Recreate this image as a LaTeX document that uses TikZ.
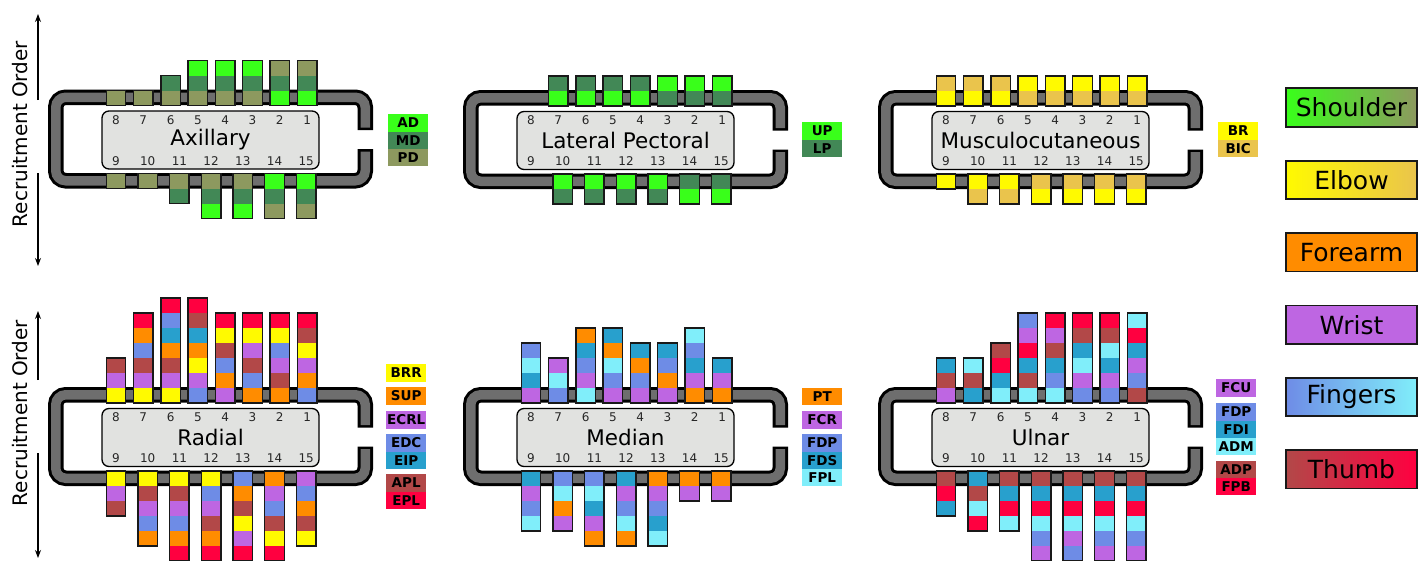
\documentclass[tikz,border=0pt]{standalone}
\usepackage{fontspec}
\setmainfont{DejaVu Sans}
\usetikzlibrary{arrows.meta}

\definecolor{gAD}{RGB}{57,255,26}
\definecolor{gMD}{RGB}{66,136,86}
\definecolor{gPD}{RGB}{141,153,95}
\definecolor{yBR}{RGB}{255,250,0}
\definecolor{yBIC}{RGB}{234,196,76}
\definecolor{oOR}{RGB}{255,140,0}
\definecolor{pPU}{RGB}{190,102,226}
\definecolor{bBL}{RGB}{110,140,230}
\definecolor{tTE}{RGB}{40,160,205}
\definecolor{cCY}{RGB}{128,238,250}
\definecolor{rBN}{RGB}{178,72,72}
\definecolor{rRE}{RGB}{255,0,64}
\definecolor{changray}{RGB}{110,110,110}
\definecolor{boxgray}{RGB}{225,226,224}

\colorlet{cAD}{gAD}\colorlet{cMD}{gMD}\colorlet{cPD}{gPD}
\colorlet{cUP}{gAD}\colorlet{cLP}{gMD}
\colorlet{cBR}{yBR}\colorlet{cBIC}{yBIC}
\colorlet{cBRR}{yBR}\colorlet{cSUP}{oOR}\colorlet{cECRL}{pPU}\colorlet{cEDC}{bBL}
\colorlet{cEIP}{tTE}\colorlet{cAPL}{rBN}\colorlet{cEPL}{rRE}
\colorlet{cPT}{oOR}\colorlet{cFCR}{pPU}\colorlet{cFDP}{bBL}\colorlet{cFDS}{tTE}\colorlet{cFPL}{cCY}
\colorlet{cFCU}{pPU}\colorlet{cFDI}{tTE}\colorlet{cADM}{cCY}\colorlet{cADP}{rBN}\colorlet{cFPB}{rRE}

\tikzset{
 chanout/.style={line width=15.5pt, draw=black, rounded corners=10pt},
 chanin/.style={line width=9.5pt, draw=changray, rounded corners=10pt},
 innerbox/.style={draw=black, line width=1.3pt, fill=boxgray, rounded corners=7pt},
 titletext/.style={font=\fontsize{21.5}{21.5}\selectfont, inner sep=0pt},
 numtext/.style={font=\fontsize{12}{12}\selectfont, text=black!85, inner sep=0pt},
 stackline/.style={draw=black!90, line width=1.4pt},
 mleg/.style={anchor=north west, minimum width=40pt, minimum height=17.3pt, inner sep=0pt, font=\bfseries\fontsize{13.5}{13.5}\selectfont},
 bigleg/.style={draw=black!90, line width=1.6pt, minimum width=131pt, minimum height=38.5pt, inner sep=0pt, font=\fontsize{25}{25}\selectfont},
 axarrow/.style={line width=1.2pt, -{Stealth[length=8pt,width=6pt]}},
 axtext/.style={rotate=90, font=\fontsize{20}{20}\selectfont, inner sep=0pt},
}

\newcommand\nervepanel[6]{%
\begin{scope}[shift={(#1,#2)}]
 \draw[chanout] (317.25,40.5) -- (317.25,7.75) -- (7.75,7.75) -- (7.75,91.25) -- (317.25,91.25) -- (317.25,59.5);
 \draw[chanin] (317.25,38) -- (317.25,7.75) -- (7.75,7.75) -- (7.75,91.25) -- (317.25,91.25) -- (317.25,62);
 \draw[innerbox] (54,21.5) rectangle (271,79.5);
 \node[titletext] (#3) at (162.5,50) {#4};
 \foreach \t in {1,...,8} \node[numtext] (#3n\t) at ({68+27.3*(8-\t)},30.5) {\t};
 \foreach \b in {9,...,15} \node[numtext] (#3n\b) at ({68+31.7*(\b-9)},71.5) {\b};
 \foreach \t/\col in {#5} {%
   \pgfmathsetmacro\cx{68+27.3*(8-\t)}%
   \foreach \mc [count=\i from 0] in \col {%
     \fill[fill=c\mc] (\cx-9.75,{16-15*\i-15}) rectangle (\cx+9.75,{16-15*\i});
     \xdef\stackn{\i}}%
   \draw[stackline] (\cx-9.75,{16-15*\stackn-15}) rectangle (\cx+9.75,16);
 }
 \foreach \b/\col in {#6} {%
   \pgfmathsetmacro\cx{68+31.7*(\b-9)}%
   \foreach \mc [count=\i from 0] in \col {%
     \fill[fill=c\mc] (\cx-9.75,{84+15*\i}) rectangle (\cx+9.75,{84+15*\i+15});
     \xdef\stackn{\i}}%
   \draw[stackline] (\cx-9.75,84) rectangle (\cx+9.75,{84+15*\stackn+15});
 }
\end{scope}}

\newcommand\mcell[4]{\node[mleg, fill=c#4] (#1) at (#2,#3) {#4};}

\begin{document}
\begin{tikzpicture}[x=1pt,y=-1pt]
\clip (0,0) rectangle (1428,560);
\fill[white] (0,0) rectangle (1428,560);

% axis labels
\node[axtext] (rec1) at (20,134) {Recruitment Order};
\node[axtext] (rec2) at (20,413) {Recruitment Order};
\coordinate (a1s) at (38,100); \coordinate (a1e) at (38,14);
\coordinate (a2s) at (38,173); \coordinate (a2e) at (38,266);
\coordinate (a3s) at (38,380); \coordinate (a3e) at (38,311);
\coordinate (a4s) at (38,453); \coordinate (a4e) at (38,558);
\draw[axarrow] (a1s) -- (a1e);
\draw[axarrow] (a2s) -- (a2e);
\draw[axarrow] (a3s) -- (a3e);
\draw[axarrow] (a4s) -- (a4e);

% Axillary
\nervepanel{48}{89.5}{axil}{Axillary}
 {8/{PD},7/{PD},6/{PD,MD},5/{PD,MD,AD},4/{PD,MD,AD},3/{PD,MD,AD},2/{AD,MD,PD},1/{AD,MD,PD}}
 {9/{PD},10/{PD},11/{PD,MD},12/{PD,MD,AD},13/{PD,MD,AD},14/{AD,MD,PD},15/{AD,MD,PD}}
\mcell{axAD}{388}{114}{AD}
\mcell{axMD}{388}{131.3}{MD}
\mcell{axPD}{388}{148.6}{PD}

% Lateral Pectoral
\nervepanel{463}{90}{latp}{Lateral Pectoral}
 {7/{UP,LP},6/{UP,LP},5/{UP,LP},4/{UP,LP},3/{LP,UP},2/{LP,UP},1/{LP,UP}}
 {10/{UP,LP},11/{UP,LP},12/{UP,LP},13/{UP,LP},14/{LP,UP},15/{LP,UP}}
\mcell{lpUP}{802}{122}{UP}
\mcell{lpLP}{802}{139.3}{LP}

% Musculocutaneous
\nervepanel{878}{90}{musc}{Musculocutaneous}
 {8/{BR,BIC},7/{BR,BIC},6/{BR,BIC},5/{BIC,BR},4/{BIC,BR},3/{BIC,BR},2/{BIC,BR},1/{BIC,BR}}
 {9/{BR},10/{BR,BIC},11/{BR,BIC},12/{BIC,BR},13/{BIC,BR},14/{BIC,BR},15/{BIC,BR}}
\mcell{muBR}{1218}{122}{BR}
\mcell{muBIC}{1218}{139.3}{BIC}

% Radial
\nervepanel{48}{387}{radi}{Radial}
 {8/{BRR,ECRL,APL},7/{BRR,ECRL,APL,EDC,SUP,EPL},6/{BRR,ECRL,APL,SUP,EIP,EDC,EPL},5/{EDC,ECRL,BRR,SUP,EIP,APL,EPL},4/{ECRL,SUP,EDC,APL,BRR,EPL},3/{SUP,EDC,APL,ECRL,BRR,EPL},2/{SUP,APL,ECRL,EDC,BRR,EPL},1/{EDC,SUP,ECRL,BRR,APL,EPL}}
 {9/{BRR,ECRL,APL},10/{BRR,APL,ECRL,EDC,SUP},11/{BRR,APL,ECRL,EDC,SUP,EPL},12/{BRR,EDC,ECRL,APL,SUP,EPL},13/{EDC,SUP,APL,BRR,ECRL,EPL},14/{SUP,ECRL,EDC,APL,BRR,EPL},15/{ECRL,EDC,SUP,APL,BRR}}
\mcell{raBRR}{386}{364}{BRR}
\mcell{raSUP}{386}{387}{SUP}
\mcell{raECRL}{386}{411}{ECRL}
\mcell{raEDC}{386}{434}{EDC}
\mcell{raEIP}{386}{451.3}{EIP}
\mcell{raAPL}{386}{474}{APL}
\mcell{raEPL}{386}{491.3}{EPL}

% Median
\nervepanel{463}{387}{medi}{Median}
 {8/{FCR,FDS,FPL,FDP},7/{FDP,FPL,FCR},6/{FPL,FCR,FDP,FDS,PT},5/{FCR,FDP,FPL,PT,FDS},4/{FCR,FDP,PT,FDS},3/{FCR,PT,FDP,FDS},2/{PT,FCR,FDS,FDP,FPL},1/{PT,FCR,FDS}}
 {9/{FDS,FCR,FDP,FPL},10/{FDP,FPL,PT,FCR},11/{FDP,FPL,FDS,FCR,PT},12/{FDS,FCR,FDP,FPL,PT},13/{PT,FCR,FDP,FDS,FPL},14/{PT,FCR},15/{PT,FCR}}
\mcell{mePT}{802}{387.5}{PT}
\mcell{meFCR}{802}{411}{FCR}
\mcell{meFDP}{802}{434}{FDP}
\mcell{meFDS}{802}{451.3}{FDS}
\mcell{meFPL}{802}{468.6}{FPL}

% Ulnar
\nervepanel{878}{387}{ulna}{Ulnar}
 {8/{FCU,ADP,FDI},7/{FDI,ADP,ADM},6/{ADM,FDI,FPB,ADP},5/{ADM,ADP,FDI,FPB,FCU,FDP},4/{ADM,FDP,FDI,ADP,FCU,FPB},3/{FDP,FCU,ADM,FDI,ADP,FPB},2/{FDP,FCU,FDI,ADM,ADP,FPB},1/{ADP,FDP,FCU,FDI,FPB,ADM}}
 {9/{ADP,FPB,FDI},10/{FDI,ADP,ADM,FPB},11/{ADP,FDI,FPB,ADM},12/{ADP,FDI,FPB,ADM,FDP,FCU},13/{ADP,FDI,FPB,ADM,FCU,FDP},14/{ADP,FDI,FPB,ADM,FDP,FCU},15/{ADP,FDI,FPB,ADM,FDP,FCU}}
\mcell{ulFCU}{1216}{379}{FCU}
\mcell{ulFDP}{1216}{403}{FDP}
\mcell{ulFDI}{1216}{420.3}{FDI}
\mcell{ulADM}{1216}{437.6}{ADM}
\mcell{ulADP}{1216}{460.5}{ADP}
\mcell{ulFPB}{1216}{477.8}{FPB}

% main legend
\node[bigleg, left color=gAD, middle color=gMD, right color=gPD] (lgShoulder) at (1351.5,107.5) {Shoulder};
\node[bigleg, left color=yBR, right color=yBIC] (lgElbow) at (1351.5,180) {Elbow};
\node[bigleg, fill=oOR] (lgForearm) at (1351.5,252.3) {Forearm};
\node[bigleg, fill=pPU] (lgWrist) at (1351.5,324.7) {Wrist};
\node[bigleg, left color=bBL, middle color=tTE, right color=cCY] (lgFingers) at (1351.5,397) {Fingers};
\node[bigleg, left color=rBN, right color=rRE] (lgThumb) at (1351.5,469.3) {Thumb};
\end{tikzpicture}
\end{document}
